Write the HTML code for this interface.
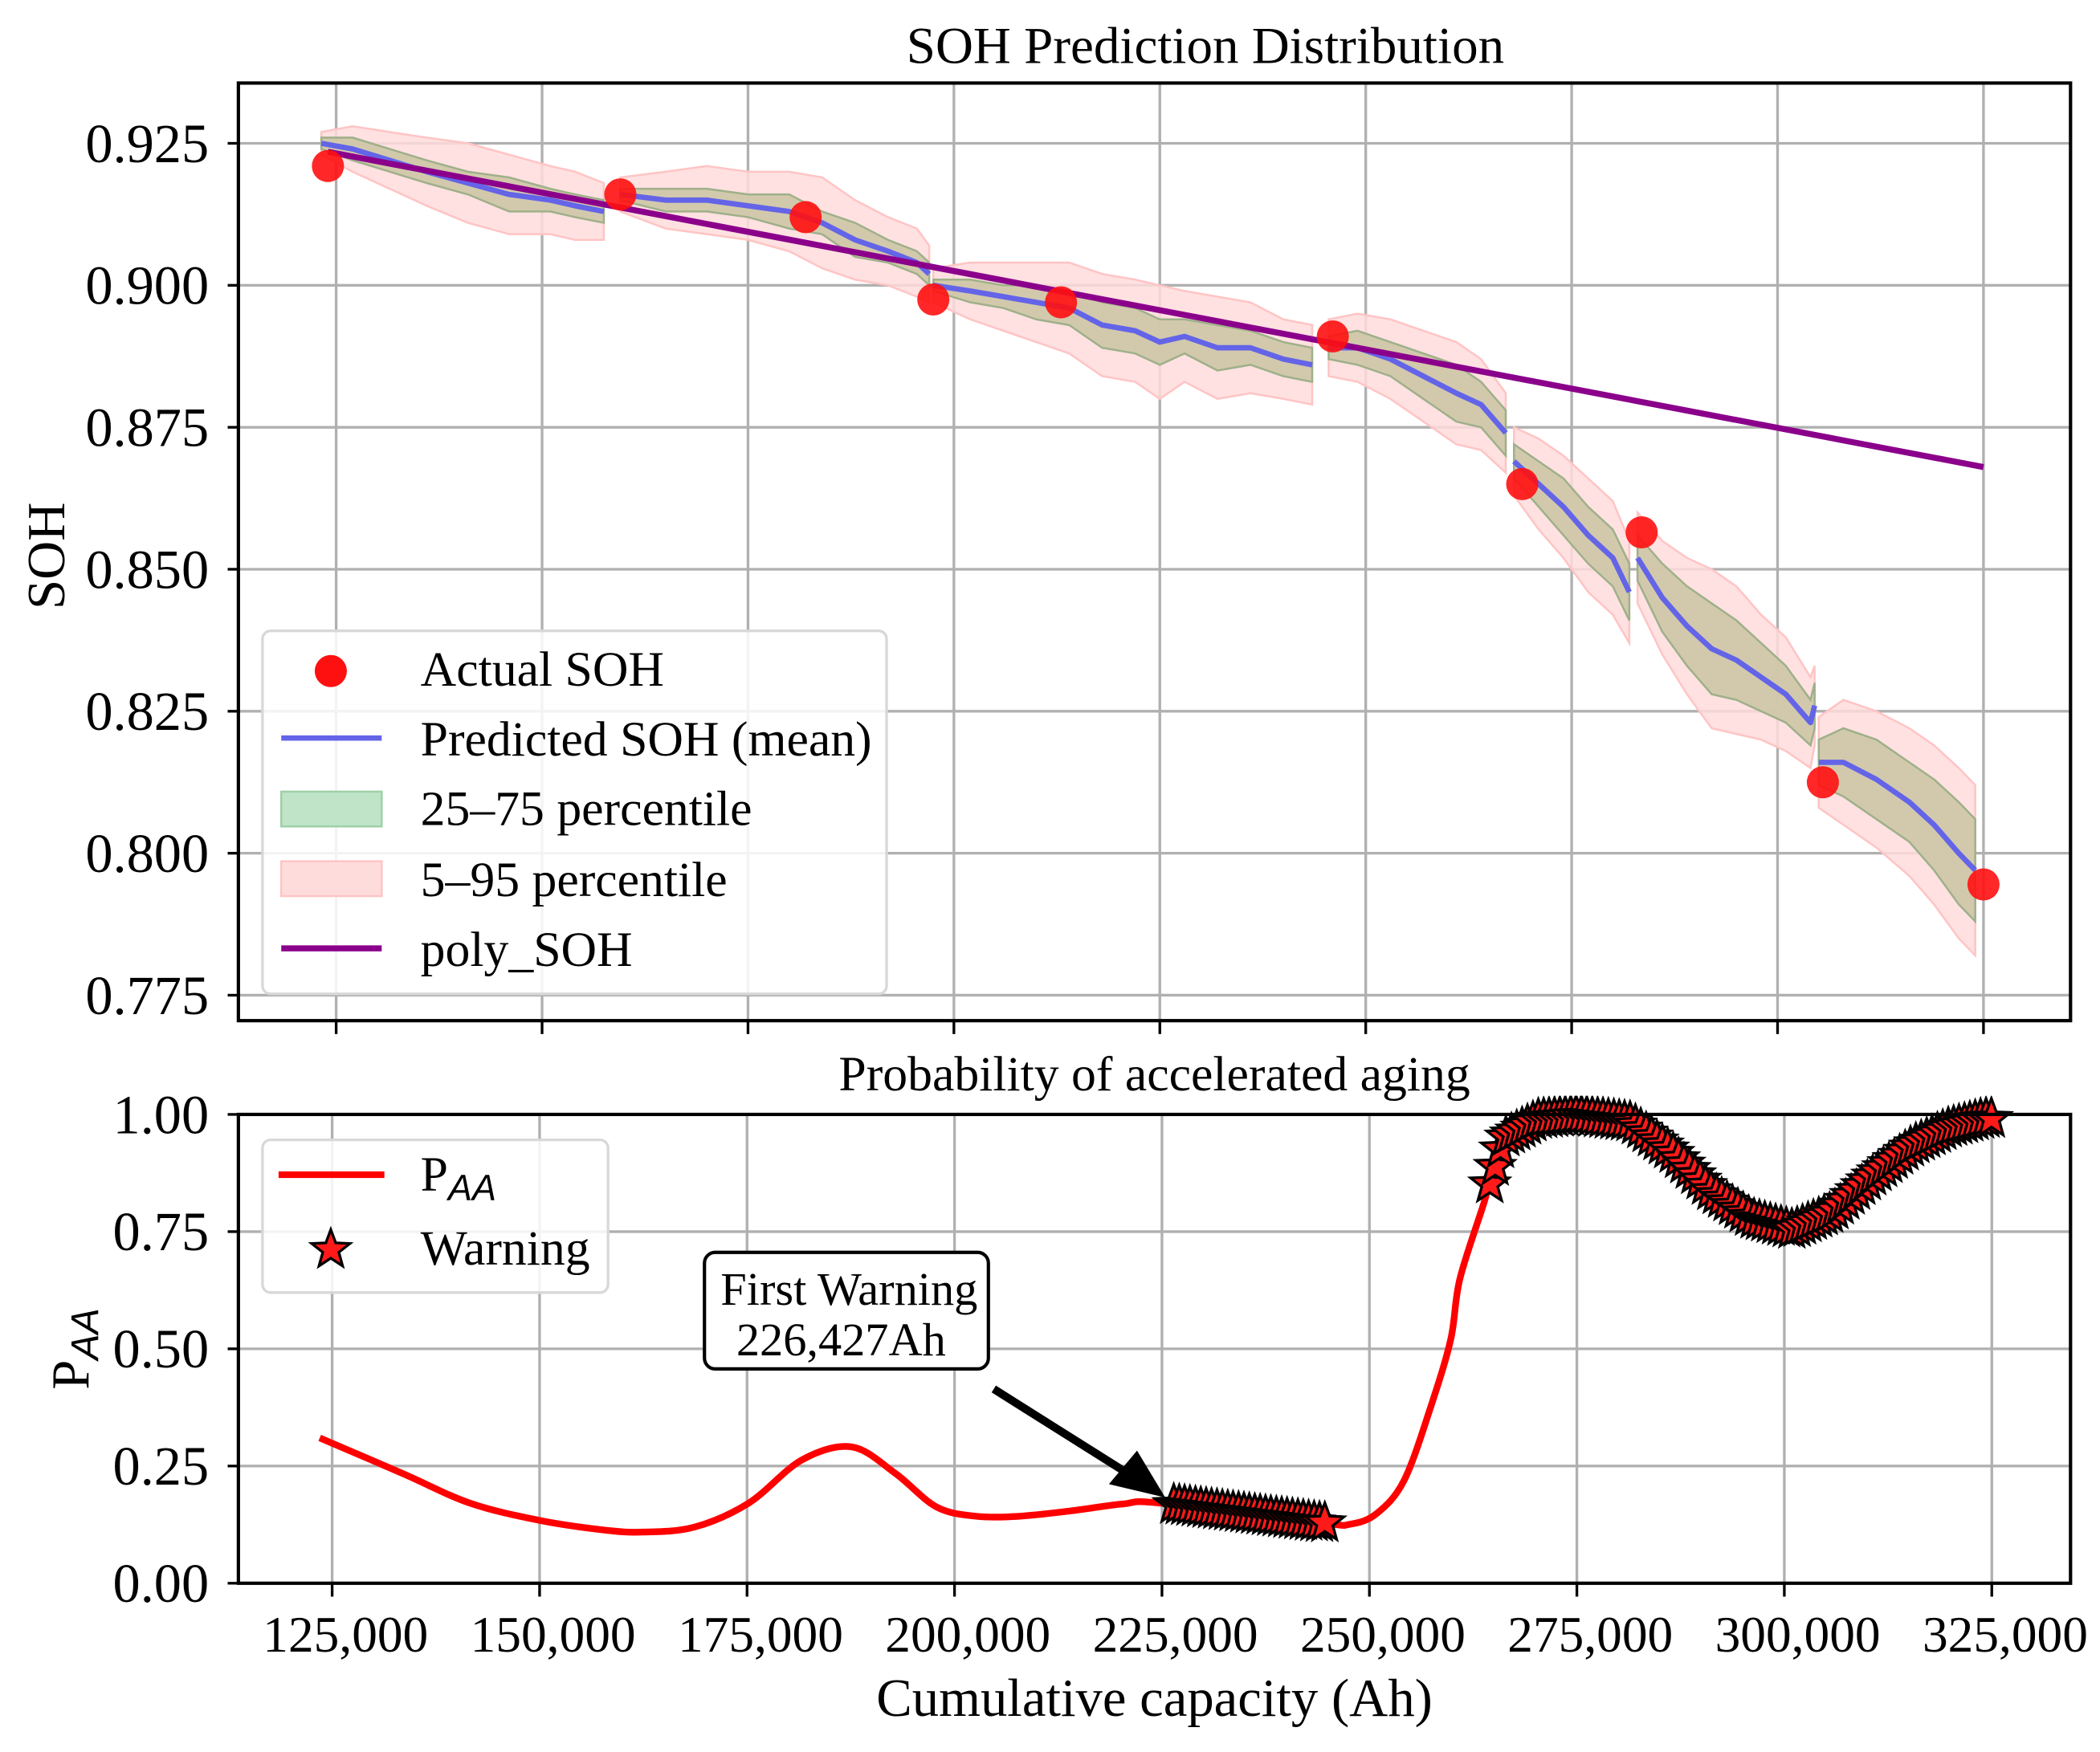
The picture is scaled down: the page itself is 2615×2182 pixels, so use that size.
<!DOCTYPE html>
<html><head><meta charset="utf-8"><style>
html,body{margin:0;padding:0;background:#fff;}
svg{display:block;font-family:"Liberation Serif",serif;}
</style></head><body>
<svg id="chart" width="2615" height="2182" viewBox="0 0 1568 1308" preserveAspectRatio="none" xmlns="http://www.w3.org/2000/svg"></svg>
<script>
// ---------- TOP PANEL DATA ----------
const actualX = [124000,159500,182000,197500,213000,246000,269000,283500,305500,325000];
const actualSOH = [0.921,0.916,0.912,0.8975,0.897,0.891,0.865,0.8565,0.8125,0.7945];
const polyX = [124000,325000];
const polySOH = [0.9235,0.868];
// predicted mean segments (null = break)
const predX = [123200,127000,131500,136000,141000,146000,151000,154000,157500,null,
 159500,165000,170000,175000,180000,184000,188000,192000,195500,197000,null,
 197500,202000,206000,210000,214000,218000,222000,225000,228000,232000,236000,240000,243500,null,
 245500,249000,253000,257000,261000,264000,267000,null,
 268000,271000,274000,277000,280000,282000,null,
 283000,286000,289000,292000,295000,298000,301000,304000,304500,null,
 305000,308000,312000,316000,319000,322000,324000];
const predMean = [0.925,0.924,0.922,0.920,0.918,0.916,0.915,0.914,0.913,null,
 0.916,0.915,0.915,0.914,0.913,0.911,0.908,0.906,0.904,0.902,null,
 0.900,0.899,0.898,0.897,0.896,0.893,0.892,0.890,0.891,0.889,0.889,0.887,0.886,null,
 0.889,0.889,0.887,0.884,0.881,0.879,0.874,null,
 0.869,0.865,0.861,0.856,0.852,0.846,null,
 0.852,0.845,0.840,0.836,0.834,0.831,0.828,0.823,0.826,null,
 0.816,0.816,0.813,0.809,0.805,0.800,0.797];
const iqrHalf = [0.001,0.002,0.002,0.002,0.002,0.003,0.002,0.002,0.002,null,
 0.001,0.002,0.002,0.002,0.003,0.002,0.003,0.002,0.002,0.002,null,
 0.001,0.002,0.002,0.003,0.003,0.004,0.004,0.004,0.003,0.004,0.003,0.003,0.003,null,
 0.002,0.003,0.003,0.004,0.005,0.004,0.004,null,
 0.003,0.004,0.005,0.005,0.005,0.005,null,
 0.004,0.006,0.007,0.008,0.007,0.006,0.005,0.004,0.004,null,
 0.004,0.006,0.007,0.007,0.008,0.009,0.009];
const p90Half = [0.002,0.004,0.005,0.006,0.007,0.007,0.006,0.006,0.005,null,
 0.003,0.005,0.006,0.006,0.007,0.008,0.007,0.006,0.006,0.005,null,
 0.003,0.005,0.006,0.007,0.008,0.009,0.009,0.010,0.008,0.009,0.008,0.007,0.007,null,
 0.005,0.006,0.007,0.008,0.009,0.008,0.007,null,
 0.006,0.008,0.009,0.010,0.010,0.009,null,
 0.008,0.010,0.012,0.014,0.013,0.011,0.010,0.008,0.007,null,
 0.008,0.011,0.012,0.013,0.014,0.015,0.015];
const topYTicks = [0.775,0.800,0.825,0.850,0.875,0.900,0.925];
const xTicks = [125000,150000,175000,200000,225000,250000,275000,300000,325000];
// ---------- BOTTOM PANEL DATA ----------
const paaX = [123500,133500,141600,150000,157500,162500,168700,175200,181600,187600,192900,197800,202600,207800,213900,220300,224800,244000,247700,250900,254200,257400,259800,260900,263800,266200,270300,275100,281600,286400,291300,296100,301000,305800,310700,315500,319800,324100];
const paaP = [0.31,0.234,0.171,0.134,0.114,0.109,0.12,0.171,0.263,0.291,0.234,0.163,0.143,0.143,0.154,0.169,0.171,0.129,0.126,0.149,0.220,0.377,0.520,0.649,0.811,0.949,0.989,0.997,0.983,0.920,0.834,0.777,0.754,0.791,0.869,0.934,0.971,0.991];
const warnRanges = [[226427,245000],[264500,325000]];
const bottomYTicks = [0.00,0.25,0.50,0.75,1.00];

// ---------- AXES ----------
const T = {x0:178,x1:1546,y0:62,y1:762};
const B = {x0:178,x1:1546,y0:832,y1:1182};
const txs = v => 251 + (v-125000)/25000*153.75;
const tys = v => 107 + (0.925-v)/0.025*106;
const bxs = v => 248 + (v-125000)/25000*154.9;
const bys = v => 1182 - v*350;

const svg = document.getElementById('chart');
const NS='http://www.w3.org/2000/svg';
function mk(tag, attrs, parent){const e=document.createElementNS(NS,tag);for(const k in attrs)e.setAttribute(k,attrs[k]);(parent||svg).appendChild(e);return e;}
function txt(s,x,y,size,anchor,parent){const t=mk('text',{x:x,y:y,'font-size':size,'text-anchor':anchor||'middle',fill:'#000'},parent);t.textContent=s;return t;}
function smooth(pts){let d='M'+pts[0][0]+','+pts[0][1];for(let i=0;i<pts.length-1;i++){const p0=pts[i-1]||pts[i],p1=pts[i],p2=pts[i+1],p3=pts[i+2]||p2;
 const c1=[p1[0]+(p2[0]-p0[0])/6,p1[1]+(p2[1]-p0[1])/6],c2=[p2[0]-(p3[0]-p1[0])/6,p2[1]-(p3[1]-p1[1])/6];
 d+='C'+c1[0].toFixed(1)+','+c1[1].toFixed(1)+' '+c2[0].toFixed(1)+','+c2[1].toFixed(1)+' '+p2[0].toFixed(1)+','+p2[1].toFixed(1);}return d;}

// Titles
let e;
e=txt('SOH Prediction Distribution',900,47,39);


e=txt('Probability of accelerated aging',862,814,37);


e=txt('Cumulative capacity (Ah)',862,1281,40);


e=mk('text',{x:0,y:0,'font-size':40,'text-anchor':'middle',transform:'translate(48,415) rotate(-90)'});
e.textContent='SOH';


e=mk('text',{x:0,y:0,'font-size':40,'text-anchor':'middle',transform:'translate(66,1007) rotate(-90)'});
e.innerHTML='P<tspan font-size="29" font-style="italic" font-family="Liberation Sans, sans-serif" dy="7">AA</tspan>';



// ---------- TOP PANEL ----------
const gT = mk('g',{});


xTicks.forEach(v=>{const x=txs(v);
 mk('line',{x1:x,x2:x,y1:T.y0,y2:T.y1,stroke:'#b0b0b0','stroke-width':2},gT);
 mk('line',{x1:x,x2:x,y1:T.y1,y2:T.y1+10,stroke:'#000','stroke-width':2},gT);});
topYTicks.forEach(v=>{const y=tys(v);
 mk('line',{x1:T.x0,x2:T.x1,y1:y,y2:y,stroke:'#b0b0b0','stroke-width':2},gT);
 mk('line',{x1:T.x0-8,x2:T.x0,y1:y,y2:y,stroke:'#000','stroke-width':2},gT);
 const t=txt(v.toFixed(3),T.x0-22,y+14,41,'end',gT);
 
 });

function segments(){const segs=[];let cur=[];predX.forEach((x,i)=>{if(x===null){segs.push(cur);cur=[];}else cur.push(i);});if(cur.length)segs.push(cur);return segs;}
const segs=segments();
segs.forEach(idx=>{
 const up=idx.map(i=>txs(predX[i])+','+tys(predMean[i]+p90Half[i]));
 const lo=idx.slice().reverse().map(i=>txs(predX[i])+','+tys(predMean[i]-p90Half[i]));
 const p=mk('polygon',{points:up.concat(lo).join(' '),fill:'#ffdcdc','fill-opacity':0.85,stroke:'#ffc4c4','stroke-width':1.5},gT);
 
 
});
segs.forEach(idx=>{
 const up=idx.map(i=>txs(predX[i])+','+tys(predMean[i]+iqrHalf[i]));
 const lo=idx.slice().reverse().map(i=>txs(predX[i])+','+tys(predMean[i]-iqrHalf[i]));
 const p=mk('polygon',{points:up.concat(lo).join(' '),fill:'#cdc6a6','fill-opacity':0.9,stroke:'#9fb08a','stroke-width':1.5},gT);
 
 
});
segs.forEach(idx=>{
 const p=mk('polyline',{points:idx.map(i=>txs(predX[i])+','+tys(predMean[i])).join(' '),fill:'none',stroke:'#6464e8','stroke-width':4,'stroke-linejoin':'round'},gT);
 
 
});
e=mk('polyline',{points:polyX.map((x,i)=>txs(x)+','+tys(polySOH[i])).join(' '),fill:'none',stroke:'#8b008b','stroke-width':4.5},gT);


actualX.forEach((x,i)=>{
 const c=mk('circle',{cx:txs(x),cy:tys(actualSOH[i]),r:12,fill:'#ff1010','fill-opacity':0.9},gT);
 
 
});
e=mk('rect',{x:T.x0,y:T.y0,width:T.x1-T.x0,height:T.y1-T.y0,fill:'none',stroke:'#000','stroke-width':2.5},gT);



// top legend
const lg=mk('g',{});


mk('rect',{x:196,y:471,width:466,height:271,rx:6,fill:'#fff','fill-opacity':0.85,stroke:'#d8d8d8','stroke-width':2},lg);
mk('circle',{cx:247,cy:501,r:12,fill:'#ff1010'},lg);
mk('line',{x1:210,x2:285,y1:551,y2:551,stroke:'#6464e8','stroke-width':4},lg);
mk('rect',{x:210,y:591,width:75,height:26,fill:'#bfe4c8',stroke:'#9fd0a8','stroke-width':1.5},lg);
mk('rect',{x:210,y:643,width:75,height:26,fill:'#ffdcdc',stroke:'#ffc4c4','stroke-width':1.5},lg);
mk('line',{x1:210,x2:285,y1:708,y2:708,stroke:'#8b008b','stroke-width':4.5},lg);
[['Actual SOH',512],['Predicted SOH (mean)',564],['25–75 percentile',616],['5–95 percentile',669],['poly_SOH',721]].forEach(a=>{
 const t=txt(a[0],314,a[1],37,'start',lg);
 
 });

// ---------- BOTTOM PANEL ----------
const gB=mk('g',{});


xTicks.forEach(v=>{const x=bxs(v);
 mk('line',{x1:x,x2:x,y1:B.y0,y2:B.y1,stroke:'#b0b0b0','stroke-width':2},gB);
 mk('line',{x1:x,x2:x,y1:B.y1,y2:B.y1+10,stroke:'#000','stroke-width':2},gB);
 const t=txt(v.toLocaleString('en-US'),x+10,1233,38,'middle',gB);
 
 });
bottomYTicks.forEach(v=>{const y=bys(v);
 mk('line',{x1:B.x0,x2:B.x1,y1:y,y2:y,stroke:'#b0b0b0','stroke-width':2},gB);
 mk('line',{x1:B.x0-8,x2:B.x0,y1:y,y2:y,stroke:'#000','stroke-width':2},gB);
 const t=txt(v.toFixed(2),B.x0-22,y+14,41,'end',gB);
 
 });
const cp=mk('clipPath',{id:'bclip'});
mk('rect',{x:B.x0,y:B.y0-14,width:B.x1-B.x0,height:B.y1-B.y0+14},cp);
e=mk('path',{d:smooth(paaX.map((x,i)=>[bxs(x),bys(paaP[i])])),fill:'none',stroke:'#ff0000','stroke-width':5,'stroke-linejoin':'round'},gB);


function interp(x){for(let i=0;i<paaX.length-1;i++){if(x>=paaX[i]&&x<=paaX[i+1]){const f=(x-paaX[i])/(paaX[i+1]-paaX[i]);return paaP[i]+f*(paaP[i+1]-paaP[i]);}}return paaP[paaP.length-1];}
function starPath(cx,cy,R){const r=R*0.42;let d='';for(let k=0;k<10;k++){const a=-Math.PI/2+k*Math.PI/5;const rr=k%2?r:R;d+=(k?'L':'M')+(cx+rr*Math.cos(a)).toFixed(1)+','+(cy+rr*Math.sin(a)).toFixed(1);}return d+'Z';}
const gS=mk('g',{'clip-path':'url(#bclip)'},gB);


warnRanges.forEach(r=>{for(let x=r[0];x<=r[1];x+=650){
 const s=mk('path',{d:starPath(bxs(x),bys(Math.min(1,interp(x))),15),fill:'#ff1a1a',stroke:'#000','stroke-width':2},gS);
 
 }});
e=mk('rect',{x:B.x0,y:B.y0,width:B.x1-B.x0,height:B.y1-B.y0,fill:'none',stroke:'#000','stroke-width':2.5},gB);



// annotation
const an=mk('g',{});


mk('rect',{x:526,y:935,width:212,height:87,rx:8,fill:'#fff',stroke:'#000','stroke-width':2.5},an);
txt('First Warning',634,974,35,'middle',an);
txt('226,427Ah',628,1012,35,'middle',an);
mk('line',{x1:742,y1:1037,x2:842,y2:1100,stroke:'#000','stroke-width':6},an);
mk('polygon',{points:'870,1118 828,1108 849,1083',fill:'#000'},an);

// bottom legend
const lb=mk('g',{});


mk('rect',{x:196,y:851,width:258,height:114,rx:6,fill:'#fff','fill-opacity':0.85,stroke:'#d8d8d8','stroke-width':2},lb);
mk('line',{x1:208,x2:287,y1:877,y2:877,stroke:'#ff0000','stroke-width':5},lb);
mk('path',{d:starPath(247,933,15),fill:'#ff1a1a',stroke:'#000','stroke-width':2},lb);
e=mk('text',{x:314,y:889,'font-size':37},lb);
e.innerHTML='P<tspan font-size="27" font-style="italic" font-family="Liberation Sans, sans-serif" dy="7">AA</tspan>';


e=txt('Warning',314,944,37,'start',lb);


</script>
</body></html>
